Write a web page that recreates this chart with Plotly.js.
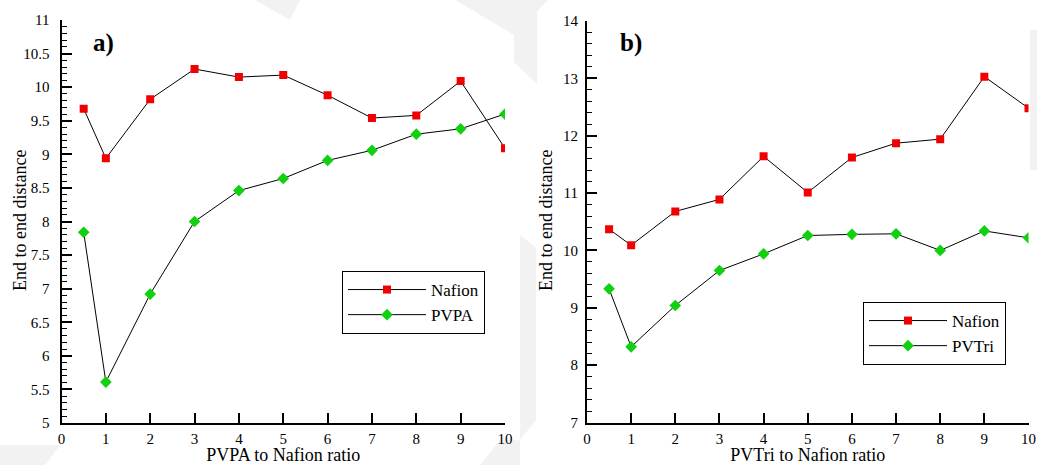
<!DOCTYPE html>
<html>
<head>
<meta charset="utf-8">
<script src="https://cdn.plot.ly/plotly-3.0.1.min.js"></script>
<style>html,body{margin:0;padding:0;background:#fff;}#chart{width:1037px;height:465px;}</style>
</head>
<body>
<div id="chart"></div>
<script>
// ---- data ----
const ratios = [0.5, 1, 2, 3, 4, 5, 6, 7, 8, 9, 10];
const nafionA = [9.68, 8.94, 9.82, 10.27, 10.15, 10.18, 9.88, 9.54, 9.58, 10.09, 9.09];
const pvpa    = [7.84, 5.61, 6.92, 8.00, 8.46, 8.64, 8.91, 9.06, 9.30, 9.38, 9.60];
const nafionB = [10.37, 10.09, 10.68, 10.89, 11.64, 11.01, 11.62, 11.87, 11.94, 13.03, 12.48];
const pvtri   = [9.33, 8.32, 9.04, 9.65, 9.94, 10.26, 10.28, 10.29, 10.00, 10.34, 10.22];
const seriesNames = ['Nafion', 'PVPA', 'PVTri'];
const xTitles = ['PVPA to Nafion ratio', 'PVTri to Nafion ratio'];
const yTitle = 'End to end distance';
const panelLabels = ['a)', 'b)'];

const FONT = "'Liberation Serif', 'Times New Roman', serif";
const RED = '#f00000', GREEN = '#10d010';

function tr(y, name, xa, ya, sym, col, size, leg) {
  return {x: ratios, y: y, name: name, xaxis: xa, yaxis: ya, type: 'scatter', mode: 'lines+markers',
    line: {color: '#000', width: 1}, marker: {symbol: sym, color: col, size: size, line: {width: 0}},
    legend: leg};
}
const data = [
  tr(nafionA, seriesNames[0], 'x', 'y', 'square', RED, 8, 'legend'),
  tr(pvpa, seriesNames[1], 'x', 'y', 'diamond', GREEN, 9, 'legend'),
  tr(nafionB, seriesNames[0], 'x2', 'y2', 'square', RED, 8, 'legend2'),
  tr(pvtri, seriesNames[2], 'x2', 'y2', 'diamond', GREEN, 9, 'legend2')
];

function xax(dom, anchor, title) {
  return {domain: dom, anchor: anchor, range: [0, 10], dtick: 1, tick0: 0,
    showline: true, linecolor: '#000', linewidth: 2, ticks: 'inside', ticklen: 10, tickwidth: 2, tickcolor: '#000',
    showgrid: false, zeroline: false, tickfont: {family: FONT, size: 15, color: '#000'},
    ticklabelstandoff: 1,
    title: {text: title, font: {family: FONT, size: 18, color: '#000'}, standoff: 12}};
}
function yax(dom, anchor, range, dt, mdt, so) {
  return {domain: dom, anchor: anchor, range: range, dtick: dt, tick0: range[0],
    showline: true, linecolor: '#000', linewidth: 2, ticks: 'inside', ticklen: 10, tickwidth: 2, tickcolor: '#000',
    minor: {dtick: mdt, ticks: 'inside', ticklen: 5, tickwidth: 1, tickcolor: '#000', showgrid: false},
    showgrid: false, zeroline: false, tickfont: {family: FONT, size: 15, color: '#000'},
    ticklabelstandoff: so};
}
const W = 1037, H = 465;
function px(x) { return x / W; }
function py(y) { return 1 - y / H; }
function poly(pts) {
  return 'M' + pts.map(p => px(p[0]).toFixed(4) + ',' + py(p[1]).toFixed(4)).join(' L') + ' Z';
}
const wm = {type: 'path', xref: 'paper', yref: 'paper', fillcolor: '#f2f2f2', line: {width: 0}, layer: 'below'};
const legFont = {family: FONT, size: 17, color: '#000'};
const layout = {
  width: W, height: H, margin: {l: 0, r: 0, t: 0, b: 0},
  paper_bgcolor: '#fff', plot_bgcolor: 'rgba(0,0,0,0)',
  font: {family: FONT, color: '#000'},
  xaxis: xax([px(61.5), px(505)], 'y', xTitles[0]),
  yaxis: yax([py(423), py(20)], 'x', [5, 11], 0.5, 0.1, 7),
  xaxis2: xax([px(587), px(1028.5)], 'y2', xTitles[1]),
  yaxis2: yax([py(422.5), py(21)], 'x2', [7, 14], 1, 0.2, 4),
  legend: {x: px(342), y: py(271), xanchor: 'left', yanchor: 'top', bgcolor: '#fff', bordercolor: '#000', borderwidth: 1,
    font: legFont, tracegroupgap: 0, itemwidth: 78},
  legend2: {x: px(863), y: py(302), xanchor: 'left', yanchor: 'top', bgcolor: '#fff', bordercolor: '#000', borderwidth: 1,
    font: legFont, tracegroupgap: 0, itemwidth: 78},
  annotations: [
    {text: panelLabels[0], xref: 'paper', yref: 'paper', x: px(91), y: py(43), xanchor: 'left', yanchor: 'middle', showarrow: false,
      font: {family: FONT, size: 25, color: '#000', weight: 'bold'}},
    {text: panelLabels[1], xref: 'paper', yref: 'paper', x: px(618), y: py(43), xanchor: 'left', yanchor: 'middle', showarrow: false,
      font: {family: FONT, size: 25, color: '#000', weight: 'bold'}},
    {text: yTitle, xref: 'paper', yref: 'paper', x: px(20), y: py(221), xanchor: 'center', yanchor: 'middle', textangle: -90,
      showarrow: false, font: {family: FONT, size: 18, color: '#000'}},
    {text: yTitle, xref: 'paper', yref: 'paper', x: px(546), y: py(221), xanchor: 'center', yanchor: 'middle', textangle: -90,
      showarrow: false, font: {family: FONT, size: 18, color: '#000'}}
  ],
  shapes: [
    Object.assign({}, wm, {path: poly([[455, 0], [548, 0], [537, 12], [537, 84], [514, 62], [514, 35]])}),
    Object.assign({}, wm, {path: poly([[520, 235], [536, 248], [536, 420], [520, 440]])}),
    Object.assign({}, wm, {path: poly([[1030, 30], [1037, 30], [1037, 170], [1030, 170]])}),
    Object.assign({}, wm, {path: poly([[0, 445], [60, 445], [45, 465], [0, 465]])}),
    Object.assign({}, wm, {path: poly([[500, 440], [520, 440], [520, 465], [480, 465]])}),
    Object.assign({}, wm, {path: poly([[255, 0], [300, 0], [290, 20]])})
  ],
  showlegend: true
};
Plotly.newPlot('chart', data, layout, {staticPlot: true, displayModeBar: false});
</script>
</body>
</html>
